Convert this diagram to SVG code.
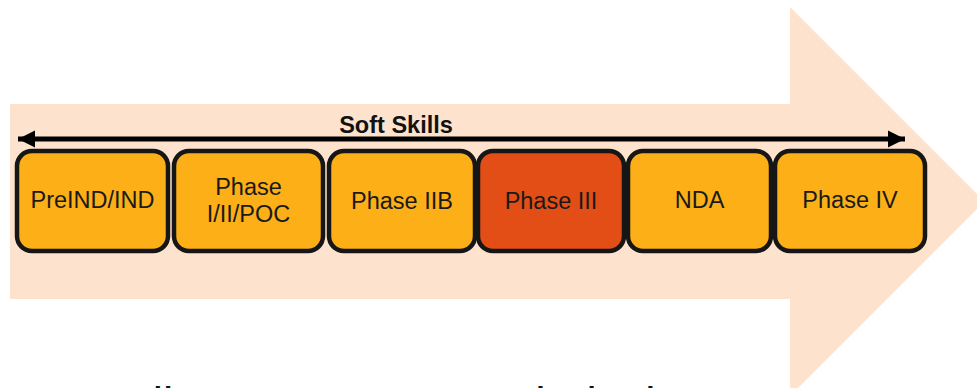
<svg xmlns="http://www.w3.org/2000/svg" width="977" height="388" viewBox="0 0 977 388">
<style>
.box{fill:#FCAF17;stroke:#161616;stroke-width:4.5}
.red{fill:#E34E16}
.lbl{font-family:"Liberation Sans",Arial,sans-serif;font-size:23.5px;fill:#1a1a1a;text-anchor:middle}
.title{font-family:"Liberation Sans",Arial,sans-serif;font-size:23.5px;font-weight:bold;fill:#111;text-anchor:middle}
.big{font-family:"Liberation Sans",Arial,sans-serif;font-size:46px;fill:#111}
</style>
<defs>
<marker id="ah" markerUnits="userSpaceOnUse" markerWidth="18" markerHeight="18" refX="17" refY="9" orient="auto-start-reverse">
<path d="M0,0.5 L17,9 L0,17.5 Z" fill="#000"/>
</marker>
</defs>
<polygon id="bg-arrow" points="10,104 790,104 790,7 984.5,201.5 790,396 790,299 10,299" fill="#FDE3CD"/>
<g id="connectors">
<line x1="18" y1="139" x2="905" y2="139" stroke="#000" stroke-width="5" marker-start="url(#ah)" marker-end="url(#ah)"/>
</g>
<text class="title" x="396" y="133">Soft Skills</text>
<g id="n1"><rect class="box" x="17" y="151" width="151" height="100" rx="15"/><text class="lbl" x="92.5" y="208">PreIND/IND</text></g>
<g id="n2"><rect class="box" x="174" y="151" width="149" height="100" rx="15"/><text class="lbl" x="248.5" y="195">Phase</text><text class="lbl" x="248.5" y="222">I/II/POC</text></g>
<g id="n3"><rect class="box" x="329" y="151" width="146" height="100" rx="15"/><text class="lbl" x="402" y="209">Phase IIB</text></g>
<g id="n4"><rect class="box red" x="478" y="151" width="146" height="100" rx="15"/><text class="lbl" x="551" y="209">Phase III</text></g>
<g id="n5"><rect class="box" x="628" y="151" width="143" height="100" rx="15"/><text class="lbl" x="699.5" y="208">NDA</text></g>
<g id="n6"><rect class="box" x="775" y="151" width="150" height="100" rx="15"/><text class="lbl" x="850" y="208">Phase IV</text></g>
<text class="big" x="30" y="419.5">Compliance Process Technical</text>
</svg>
